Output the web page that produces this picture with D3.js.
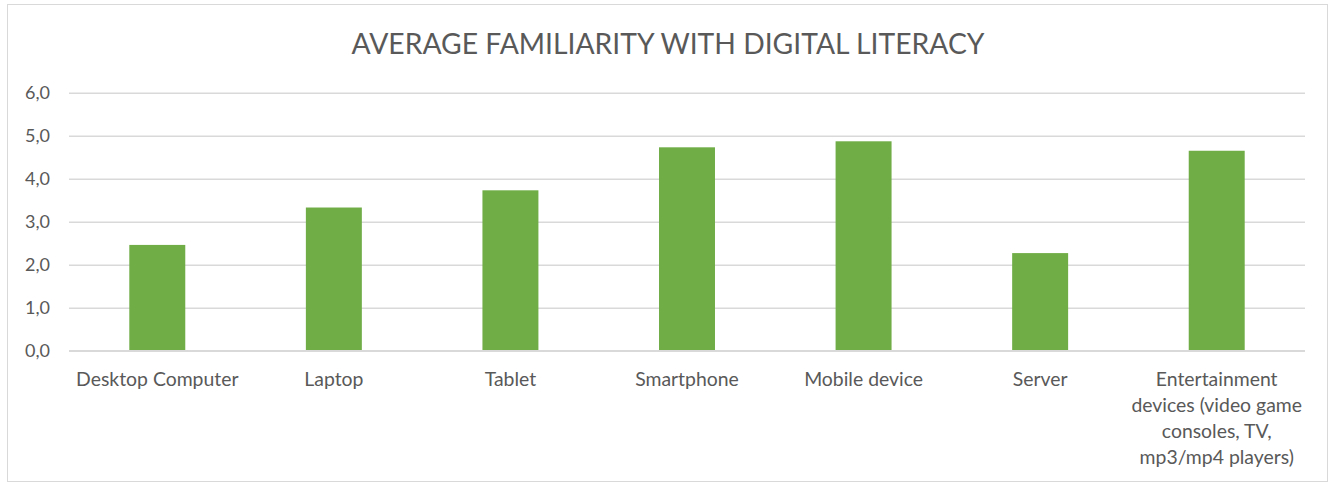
<!DOCTYPE html>
<html>
<head>
<meta charset="utf-8">
<script src="https://cdn.jsdelivr.net/npm/d3@7"></script>
<style>
  html, body { margin: 0; padding: 0; background: #fff; }
  svg { display: block; }
  text { font-family: Lato, "Open Sans", sans-serif; fill: #595959; }
</style>
</head>
<body>
<svg id="chart" width="1330" height="483"></svg>
<script>
// Chart data
const title = "AVERAGE FAMILIARITY WITH DIGITAL LITERACY";
const categories = [
  "Desktop Computer", "Laptop", "Tablet", "Smartphone",
  "Mobile device", "Server", "Entertainment devices"
];
// Wrapped label lines for each category
const categoryLines = [
  ["Desktop Computer"],
  ["Laptop"],
  ["Tablet"],
  ["Smartphone"],
  ["Mobile device"],
  ["Server"],
  ["Entertainment", "devices (video game", "consoles, TV,", "mp3/mp4 players)"]
];
const values = [2.46, 3.33, 3.73, 4.73, 4.87, 2.27, 4.65];
const yTicks = [0, 1, 2, 3, 4, 5, 6];

const svg = d3.select("#chart");
const plot = { left: 69, right: 1305, top: 92.7, bottom: 350.7 };

// Outer chart frame
svg.append("rect")
  .attr("x", 7.5).attr("y", 4.5)
  .attr("width", 1320).attr("height", 477)
  .attr("fill", "#fff").attr("stroke", "#d9d9d9").attr("stroke-width", 1);

// Title
svg.append("text")
  .attr("x", 668).attr("y", 54)
  .attr("text-anchor", "middle")
  .style("font-size", "28.3px")
  .style("font-weight", 400)
  .text(title);

const x = d3.scaleBand()
  .domain(categories)
  .range([plot.left, plot.right])
  .paddingInner(0.683)
  .paddingOuter(0.3415);

const y = d3.scaleLinear()
  .domain([0, 6])
  .range([plot.bottom, plot.top]);

// Horizontal gridlines and value axis labels
const yAxis = d3.axisLeft(y)
  .tickValues(yTicks)
  .tickSize(-(plot.right - plot.left))
  .tickPadding(19)
  .tickFormat(d => d3.format(".1f")(d).replace(".", ","));

const gy = svg.append("g")
  .attr("transform", `translate(${plot.left},0)`)
  .call(yAxis);
gy.select(".domain").remove();
gy.selectAll(".tick line")
  .attr("stroke", "#d9d9d9").attr("stroke-width", 1.5);
gy.selectAll(".tick text")
  .attr("fill", "#595959")
  .style("font-size", "18px")
  .style("font-family", "Lato, 'Open Sans', sans-serif");

// Bars
svg.append("g").selectAll("rect")
  .data(categories)
  .join("rect")
  .attr("x", d => x(d))
  .attr("width", x.bandwidth())
  .attr("y", (d, i) => y(values[i]))
  .attr("height", (d, i) => y(0) - y(values[i]))
  .attr("fill", "#70ad47");

// Zero baseline drawn over the bar bottoms
svg.append("line")
  .attr("x1", plot.left).attr("x2", plot.right)
  .attr("y1", y(0)).attr("y2", y(0))
  .attr("stroke", "#d9d9d9").attr("stroke-width", 1.5);

// Category labels
const labels = svg.append("g").selectAll("text")
  .data(categories)
  .join("text")
  .attr("text-anchor", "middle")
  .attr("y", 386)
  .style("font-size", "19.4px");

labels.each(function(d, i) {
  const cx = x(d) + x.bandwidth() / 2;
  d3.select(this).selectAll("tspan")
    .data(categoryLines[i])
    .join("tspan")
    .attr("x", cx)
    .attr("dy", (t, j) => j === 0 ? 0 : 26)
    .text(t => t);
});
</script>
</body>
</html>
